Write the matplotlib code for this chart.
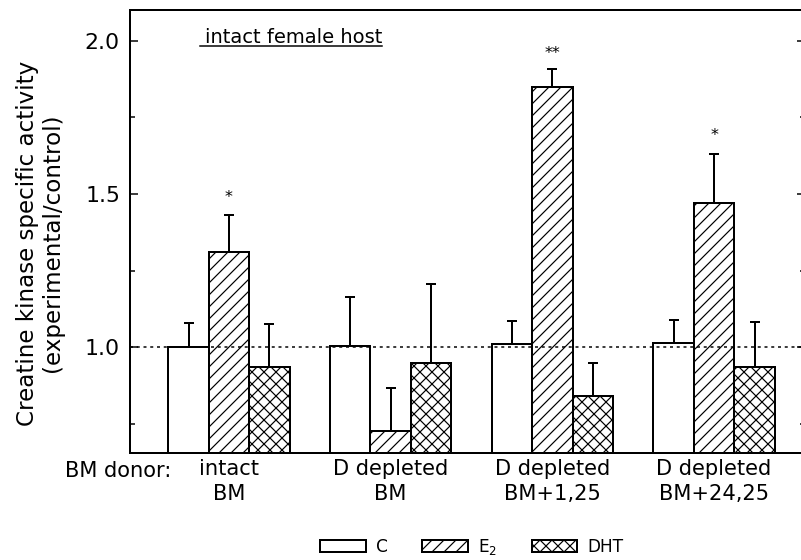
import numpy as np
import matplotlib
matplotlib.use("Agg")
import matplotlib.pyplot as plt
from matplotlib.lines import Line2D

# values (ratio experimental/control)
groups = ["intact\nBM", "D depleted\nBM", "D depleted\nBM+1,25", "D depleted\nBM+24,25"]
c_vals = [1.00, 1.004, 1.009, 1.012]
c_err = [0.08, 0.16, 0.077, 0.078]
e2_vals = [1.31, 0.725, 1.849, 1.47]
e2_err = [0.12, 0.14, 0.058, 0.16]
dht_vals = [0.934, 0.947, 0.841, 0.934]
dht_err = [0.14, 0.258, 0.108, 0.149]
stars = ["*", "", "**", "*"]
star_y = [1.49, None, 1.96, 1.69]

DPI = 72
plt.rcParams["font.family"] = "DejaVu Sans"
plt.rcParams["hatch.linewidth"] = 1.2

fig = plt.figure(figsize=(801 / DPI, 560 / DPI), dpi=DPI)
W, H = 801.0, 560.0
ax = fig.add_axes([130 / W, 107 / H, (805 - 130) / W, 443 / H])

x = np.arange(len(groups))
w = 0.25
series = [(c_vals, c_err, "", "C"), (e2_vals, e2_err, "//", "E$_2$"), (dht_vals, dht_err, "xx", "DHT")]
handles = []
for k, (v, e, hatch, lab) in enumerate(series):
    xs = x + (k - 1) * w
    b = ax.bar(xs, v, w, color="white", edgecolor="black", linewidth=2, hatch=hatch, label=lab, zorder=2)
    handles.append(b)
    ax.errorbar(xs, v, yerr=[np.zeros(len(v)), e], fmt="none", ecolor="black",
                elinewidth=2, capsize=5, capthick=2, zorder=1)

for i, s in enumerate(stars):
    if s:
        ax.text(x[i], star_y[i], s, ha="center", va="center", fontsize=16)

ax.axhline(1.0, color="black", lw=1.5, linestyle=(0, (2, 2.5)), zorder=3)

ax.set_ylim(0.654, 2.101)
ax.set_xlim(-0.612, 3.562)
ax.set_yticks([1.0, 1.5, 2.0])
ax.set_yticks([0.75, 1.25, 1.75], minor=True)
ax.set_yticklabels(["1.0", "1.5", "2.0"])
ax.tick_params(axis="y", which="both", direction="in", right=True, width=1.5, labelsize=22, pad=10)
ax.tick_params(axis="y", which="major", length=8)
ax.tick_params(axis="y", which="minor", length=5)
ax.set_xticks(x)
ax.set_xticklabels(groups, fontsize=21, linespacing=1.3)
ax.tick_params(axis="x", length=0, pad=6)
for sp in ["left", "bottom", "top"]:
    ax.spines[sp].set_linewidth(2)
ax.spines["right"].set_visible(False)

fig.text(40 / W, 1 - 243 / H, "Creatine kinase specific activity\n(experimental/control)",
         rotation=90, ha="center", va="center", fontsize=23, linespacing=1.1)
fig.text(65 / W, 1 - 471 / H, "BM donor:", ha="left", va="center", fontsize=21)

t = ax.text((205 - 130) / 675, (453 - 28) / 443, "intact female host", transform=ax.transAxes,
            ha="left", va="top", fontsize=19.5)
fig.canvas.draw()
bb = t.get_window_extent()
fig.add_artist(Line2D([bb.x0 - 5, bb.x1], [bb.y0 + 1, bb.y0 + 1], color="black", lw=1.5, transform=None))

fig.legend(handles=handles, loc="center", bbox_to_anchor=(472 / W, 1 - 547 / H), ncol=3,
           frameon=False, fontsize=17, handlelength=2.7, handleheight=0.7,
           handletextpad=0.6, columnspacing=2.0)

fig.savefig("out.png", dpi=DPI)
